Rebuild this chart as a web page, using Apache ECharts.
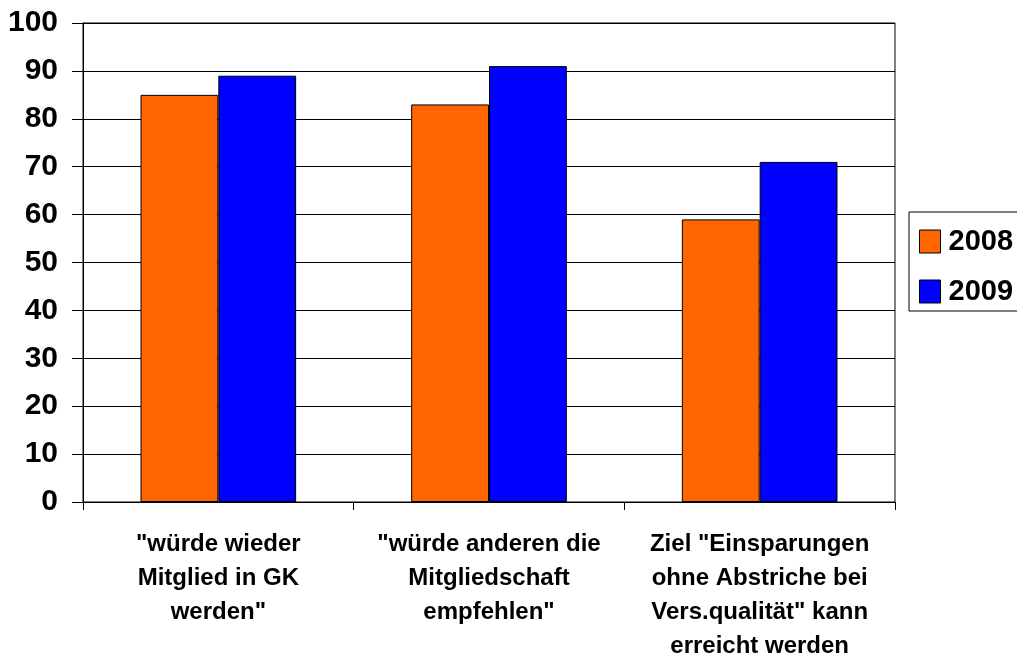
<!DOCTYPE html>
<html>
<head>
<meta charset="utf-8">
<script src="https://cdn.jsdelivr.net/npm/echarts@6/dist/echarts.min.js"></script>
<style>
	html, body { margin: 0; padding: 0; background: #fff; }
	#chart { width: 1017px; height: 657px; }
</style>
</head>
<body>
<div id="chart"></div>
<script>
// Data
var kategorien = [
	'"würde wieder\nMitglied in GK\nwerden"',
	'"würde anderen die\nMitgliedschaft\nempfehlen"',
	'Ziel "Einsparungen\nohne Abstriche bei\nVers.qualität" kann\nerreicht werden'
];
var jahre = ['2008', '2009'];
var werte2008 = [85, 83, 59];
var werte2009 = [89, 91, 71];
var yTicks = [0, 10, 20, 30, 40, 50, 60, 70, 80, 90, 100];

var chart = echarts.init(document.getElementById('chart'));

var schrift = 'Liberation Sans, Arial, sans-serif';

var option = {
	animation: false,
	color: ['#FF6600', '#0000FF'],
	textStyle: {
		fontFamily: schrift
	},
	grid: {
		left: 83,
		right: 122,
		top: 23,
		bottom: 155,
		outerBoundsMode: 'none',
		containLabel: false,
		show: true,
		borderColor: '#000',
		borderWidth: 1
	},
	legend: {
		data: jahre,
		orient: 'vertical',
		left: 909,
		top: 212,
		padding: [15, 12, 5, 10],
		itemWidth: 21,
		itemHeight: 23,
		itemGap: 21,
		borderColor: '#000',
		borderWidth: 1,
		icon: 'rect',
		itemStyle: {
			borderColor: '#000',
			borderWidth: 1
		},
		textStyle: {
			fontSize: 29,
			fontWeight: 'bold',
			lineHeight: 23,
			color: '#000',
			fontFamily: schrift,
			padding: [0, 0, 0, 3]
		}
	},
	xAxis: [{
		type: 'category',
		data: kategorien,
		axisLine: {
			lineStyle: { color: '#000', width: 1 }
		},
		axisTick: {
			show: true,
			length: 8,
			lineStyle: { color: '#000' }
		},
		axisLabel: {
			interval: 0,
			margin: 25,
			fontSize: 24,
			fontWeight: 'bold',
			lineHeight: 34,
			color: '#000',
			fontFamily: schrift
		}
	}],
	yAxis: [{
		type: 'value',
		min: 0,
		max: 100,
		interval: 10,
		axisLine: {
			show: true,
			lineStyle: { color: '#000', width: 1 }
		},
		axisTick: {
			show: true,
			length: 11,
			lineStyle: { color: '#000' }
		},
		axisLabel: {
			margin: 25,
			fontSize: 30,
			fontWeight: 'bold',
			color: '#000',
			fontFamily: schrift,
			formatter: function (v) {
				return yTicks.indexOf(v) >= 0 ? String(v) : '';
			}
		},
		splitLine: {
			show: true,
			lineStyle: { color: '#000', width: 1 }
		}
	}],
	series: [
		{
			name: jahre[0],
			type: 'bar',
			data: werte2008,
			barGap: '0%',
			barCategoryGap: '42.5%',
			itemStyle: { borderColor: '#000', borderWidth: 1 }
		},
		{
			name: jahre[1],
			type: 'bar',
			data: werte2009,
			barGap: '0%',
			barCategoryGap: '42.5%',
			itemStyle: { borderColor: '#000', borderWidth: 1 }
		}
	]
};

chart.setOption(option);
</script>
</body>
</html>
